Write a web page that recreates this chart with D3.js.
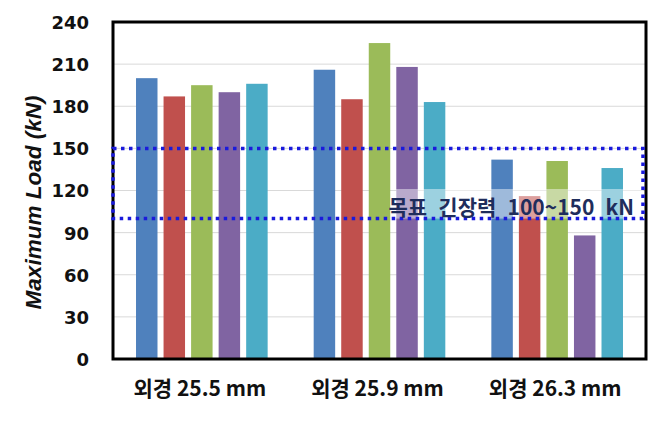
<!DOCTYPE html>
<html><head><meta charset="utf-8">
<script src="https://cdn.jsdelivr.net/npm/d3@7"></script>
<style>body{margin:0;background:#fff}svg{display:block}</style>
</head><body>
<svg id="c" width="663" height="425"></svg>
<script>
const categories = ["외경 25.5 mm", "외경 25.9 mm", "외경 26.3 mm"];
const seriesNames = ["S1", "S2", "S3", "S4", "S5"];
const s1 = [200, 206, 142];
const s2 = [187, 185, 116];
const s3 = [195, 225, 141];
const s4 = [190, 208, 88];
const s5 = [196, 183, 136];
const seriesValues = [s1, s2, s3, s4, s5];
const colors = ["#4F81BD", "#C0504D", "#9BBB59", "#8064A2", "#4BACC6"];
const yTicks = [0, 30, 60, 90, 120, 150, 180, 210, 240];
const targetRange = [100, 150];
const targetLabel = "목표 긴장력 100~150 kN";

const svg = d3.select("#c");
const L = 113, R = 646, T = 22, B = 359;
const y = d3.scaleLinear().domain([0, 240]).range([B, T]);
const x0 = d3.scaleBand().domain(categories).range([L, R]).paddingInner(0.225).paddingOuter(0.1125);
const x1 = d3.scaleBand().domain(seriesNames).range([0, x0.bandwidth()]).paddingInner(0.22).paddingOuter(0.11);

// gridlines
svg.append("g").selectAll("line").data(yTicks.slice(1)).join("line")
  .attr("x1", L).attr("x2", R).attr("y1", d => y(d)).attr("y2", d => y(d))
  .attr("stroke", "#d9d9d9").attr("stroke-width", 1);

// bars
const g = svg.append("g");
categories.forEach((c, ci) => {
  seriesNames.forEach((s, si) => {
    g.append("rect")
      .attr("x", x0(c) + x1(s)).attr("width", x1.bandwidth())
      .attr("y", y(seriesValues[si][ci])).attr("height", B - y(seriesValues[si][ci]))
      .attr("fill", colors[si]);
  });
});

// frame
svg.append("rect").attr("x", L).attr("y", T).attr("width", R - L).attr("height", B - T)
  .attr("fill", "none").attr("stroke", "#000").attr("stroke-width", 3);

// y axis labels
const yAxis = d3.axisLeft(y).tickValues(yTicks).tickSize(0).tickPadding(0);
const ya = svg.append("g").attr("transform", `translate(${L - 24},0)`).call(yAxis);
ya.select(".domain").remove();
ya.selectAll("text").attr("font-family", "'DejaVu Sans', sans-serif")
  .attr("font-weight", "bold").attr("font-size", 18).attr("fill", "#111").attr("dy", "0.36em");

// y title
svg.append("text").attr("transform", `translate(41,${(T + B) / 2 + 12}) rotate(-90)`)
  .attr("text-anchor", "middle").attr("font-family", "'Liberation Sans', Arial, sans-serif")
  .attr("font-weight", "bold").attr("font-style", "italic").attr("font-size", 22.5)
  .attr("fill", "#111").text("Maximum Load (kN)");

// x labels
const xAxis = d3.axisBottom(x0).tickSize(0).tickPadding(0);
const xa = svg.append("g").attr("transform", `translate(-2,${B + 37})`).call(xAxis);
xa.select(".domain").remove();
xa.selectAll("text").attr("font-family", "'Noto Sans CJK KR', sans-serif")
  .attr("font-weight", "bold").attr("font-size", 21).attr("fill", "#111").attr("dy", "0");

// translucent label background
svg.append("rect").attr("x", 396).attr("y", 189).attr("width", 247).attr("height", y(targetRange[0]) - 189)
  .attr("fill", "#fff").attr("opacity", 0.45);

// target box
svg.append("rect").attr("x", L).attr("y", y(targetRange[1]))
  .attr("width", R - L - 3).attr("height", y(targetRange[0]) - y(targetRange[1]))
  .attr("fill", "none").attr("stroke", "#1a1adc").attr("stroke-width", 3.5)
  .attr("stroke-dasharray", "3.5 4.5");

svg.append("text").attr("x", 634).attr("y", 215).attr("text-anchor", "end")
  .attr("font-family", "'Noto Sans CJK KR', sans-serif").attr("font-weight", "bold")
  .attr("font-size", 21).attr("fill", "#1f2d5c").attr("word-spacing", "6.5px").text(targetLabel);
</script>
</body></html>
